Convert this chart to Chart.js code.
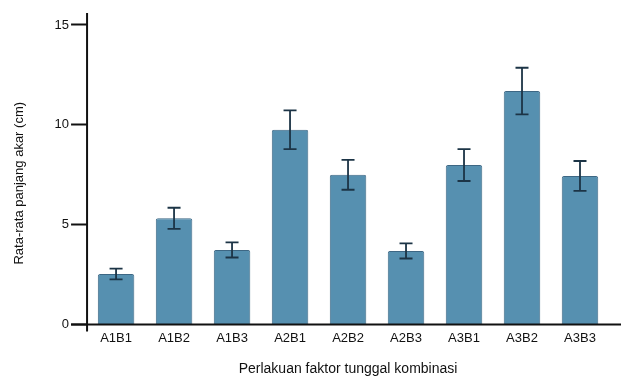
<!DOCTYPE html>
<html>
<head>
<meta charset="utf-8">
<script src="https://cdn.jsdelivr.net/npm/chart.js@4"></script>
<style>
  html, body { margin: 0; padding: 0; background: #fff; }
  #wrap { width: 624px; height: 378px; position: relative; }
</style>
</head>
<body>
<div id="wrap"><canvas id="graphique"></canvas></div>
<script>
const kategori = ['A1B1', 'A1B2', 'A1B3', 'A2B1', 'A2B2', 'A2B3', 'A3B1', 'A3B2', 'A3B3'];
const rataRata = [2.53, 5.32, 3.74, 9.76, 7.50, 3.69, 7.99, 11.69, 7.44];
const galat = [0.27, 0.53, 0.38, 0.97, 0.75, 0.38, 0.80, 1.17, 0.75];
const tickY = [0, 5, 10, 15];

const warnaBatang = '#5690b0';
const warnaTepi = '#3d6784';
const warnaGalat = '#1c3446';

// garis sumbu dibuat sendiri supaya bisa sedikit melewati area grafik
const garisSumbu = {
  id: 'garisSumbu',
  afterDraw(chart) {
    const { ctx, chartArea } = chart;
    ctx.save();
    ctx.strokeStyle = '#111';
    ctx.lineWidth = 2;
    ctx.beginPath();
    ctx.moveTo(chartArea.left, chartArea.top);
    ctx.lineTo(chartArea.left, chartArea.bottom + 7);
    ctx.moveTo(chartArea.left - 16, chartArea.bottom);
    ctx.lineTo(chartArea.right + 12, chartArea.bottom);
    ctx.stroke();
    ctx.restore();
  }
};

// error bar
const errorBar = {
  id: 'errorBar',
  afterDatasetsDraw(chart) {
    const { ctx } = chart;
    const y = chart.scales.y;
    const meta = chart.getDatasetMeta(0);
    ctx.save();
    ctx.strokeStyle = warnaGalat;
    ctx.lineWidth = 1.8;
    meta.data.forEach((bar, i) => {
      const x = bar.x;
      const atas = y.getPixelForValue(rataRata[i] + galat[i]);
      const bawah = y.getPixelForValue(rataRata[i] - galat[i]);
      ctx.beginPath();
      ctx.moveTo(x, atas);
      ctx.lineTo(x, bawah);
      ctx.moveTo(x - 6.5, atas);
      ctx.lineTo(x + 6.5, atas);
      ctx.moveTo(x - 6.5, bawah);
      ctx.lineTo(x + 6.5, bawah);
      ctx.stroke();
    });
    ctx.restore();
  }
};

Chart.defaults.font.family = '"Liberation Sans", Arial, sans-serif';
Chart.defaults.color = '#111';

const ctx = document.getElementById('graphique').getContext('2d');
new Chart(ctx, {
  type: 'bar',
  data: {
    labels: kategori,
    datasets: [{
      data: rataRata,
      backgroundColor: warnaBatang,
      borderColor: warnaTepi,
      borderWidth: 1,
      borderRadius: 2,
      borderSkipped: 'bottom',
      barPercentage: 0.63,
      categoryPercentage: 1
    }]
  },
  options: {
    responsive: true,
    maintainAspectRatio: false,
    animation: false,
    layout: { padding: { top: 13, right: 15, left: 12, bottom: 0 } },
    plugins: {
      legend: { display: false },
      tooltip: { enabled: false }
    },
    scales: {
      x: {
        grid: { display: false, drawTicks: false },
        border: { display: false },
        ticks: { font: { size: 13 }, padding: 6, color: '#111' },
        title: {
          display: true,
          text: 'Perlakuan faktor tunggal kombinasi',
          font: { size: 14 },
          padding: { top: 9, bottom: 0 }
        }
      },
      y: {
        min: 0,
        max: 15.6,
        afterBuildTicks(scale) {
          scale.ticks = tickY.map(v => ({ value: v }));
        },
        grid: {
          drawOnChartArea: false,
          drawTicks: true,
          tickLength: 16,
          tickWidth: 2,
          color: '#111'
        },
        border: { display: false },
        ticks: { font: { size: 13 }, padding: 2, color: '#111' },
        title: {
          display: true,
          // spasi di belakang menggeser judul sedikit ke bawah
          text: 'Rata-rata panjang akar (cm)        ',
          font: { size: 13 },
          padding: { top: 0, bottom: 25 }
        }
      }
    }
  },
  plugins: [garisSumbu, errorBar]
});
</script>
</body>
</html>
